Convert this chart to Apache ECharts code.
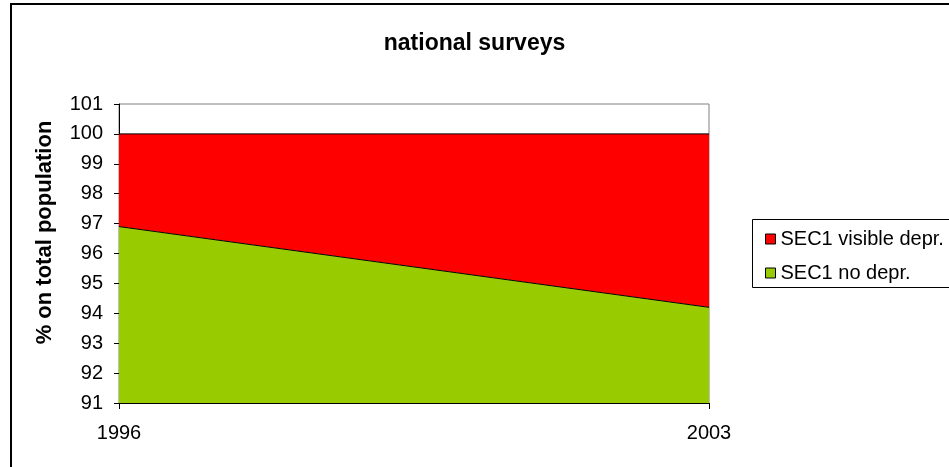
<!DOCTYPE html>
<html>
<head>
<meta charset="utf-8">
<script src="https://cdn.jsdelivr.net/npm/echarts@6/dist/echarts.min.js"></script>
<style>
  html, body { margin: 0; padding: 0; background: #fff; }
  #chart { width: 949px; height: 467px; }
</style>
</head>
<body>
<div id="chart"></div>
<script>
// Survey years and stacked shares (% of total population)
const years = ['1996', '2003'];
const noDepr = [96.9, 94.2];
const visibleDepr = [3.1, 5.8];

const FONT = '"Liberation Sans", Arial, sans-serif';

const chart = echarts.init(document.getElementById('chart'), null, { renderer: 'canvas' });

chart.setOption({
  animation: false,
  backgroundColor: '#ffffff',
  textStyle: { fontFamily: FONT, color: '#000' },
  title: {
    text: 'national surveys',
    left: 'center',
    top: 27,
    textStyle: { fontFamily: FONT, fontSize: 23, fontWeight: 'bold', color: '#000' }
  },
  graphic: [
    {
      type: 'rect',
      silent: true,
      shape: { x: 11, y: 4, width: 1000, height: 600 },
      style: { fill: 'none', stroke: '#000', lineWidth: 2 }
    },
    {
      type: 'rect',
      silent: true,
      shape: { x: 752.5, y: 219.5, width: 300, height: 68 },
      style: { fill: 'none', stroke: '#000', lineWidth: 1 }
    }
  ],
  legend: {
    orient: 'vertical',
    left: 760,
    top: 224,
    itemWidth: 10,
    itemHeight: 10,
    itemGap: 14,
    data: [
      { name: 'SEC1 visible depr.', icon: 'rect' },
      { name: 'SEC1 no depr.', icon: 'rect' }
    ],
    textStyle: { fontFamily: FONT, fontSize: 20, color: '#000' },
    itemStyle: { borderColor: '#000', borderWidth: 1 }
  },
  grid: {
    left: 119,
    right: 240,
    top: 104,
    bottom: 64,
    show: true,
    borderColor: '#808080',
    borderWidth: 1,
    backgroundColor: 'transparent'
  },
  xAxis: {
    type: 'category',
    data: years,
    boundaryGap: false,
    axisLine: { lineStyle: { color: '#000', width: 1 } },
    axisTick: { show: true, length: 6, lineStyle: { color: '#000' } },
    axisLabel: { fontFamily: FONT, fontSize: 20, color: '#000', margin: 20 },
    splitLine: { show: false }
  },
  yAxis: {
    type: 'value',
    min: 91,
    max: 101,
    interval: 1,
    name: '% on total population',
    nameLocation: 'middle',
    nameGap: 63,
    nameTextStyle: {
      fontFamily: FONT, fontSize: 22, fontWeight: 'bold', color: '#000',
      padding: [0, 0, 0, 42]
    },
    axisLine: { show: true, lineStyle: { color: '#000', width: 1 } },
    axisTick: { show: true, length: 5, lineStyle: { color: '#000' } },
    axisLabel: { fontFamily: FONT, fontSize: 20, color: '#000', margin: 16 },
    splitLine: { show: false }
  },
  series: [
    {
      name: 'SEC1 no depr.',
      type: 'line',
      stack: 'total',
      data: noDepr,
      symbol: 'none',
      color: '#99CC00',
      lineStyle: { color: '#000', width: 1 },
      areaStyle: { color: '#99CC00', opacity: 1 },
      itemStyle: { color: '#99CC00' },
      z: 2
    },
    {
      name: 'SEC1 visible depr.',
      type: 'line',
      stack: 'total',
      data: visibleDepr,
      symbol: 'none',
      color: '#FF0000',
      lineStyle: { color: '#000', width: 1 },
      areaStyle: { color: '#FF0000', opacity: 1 },
      itemStyle: { color: '#FF0000' },
      z: 1
    }
  ]
});
</script>
</body>
</html>
